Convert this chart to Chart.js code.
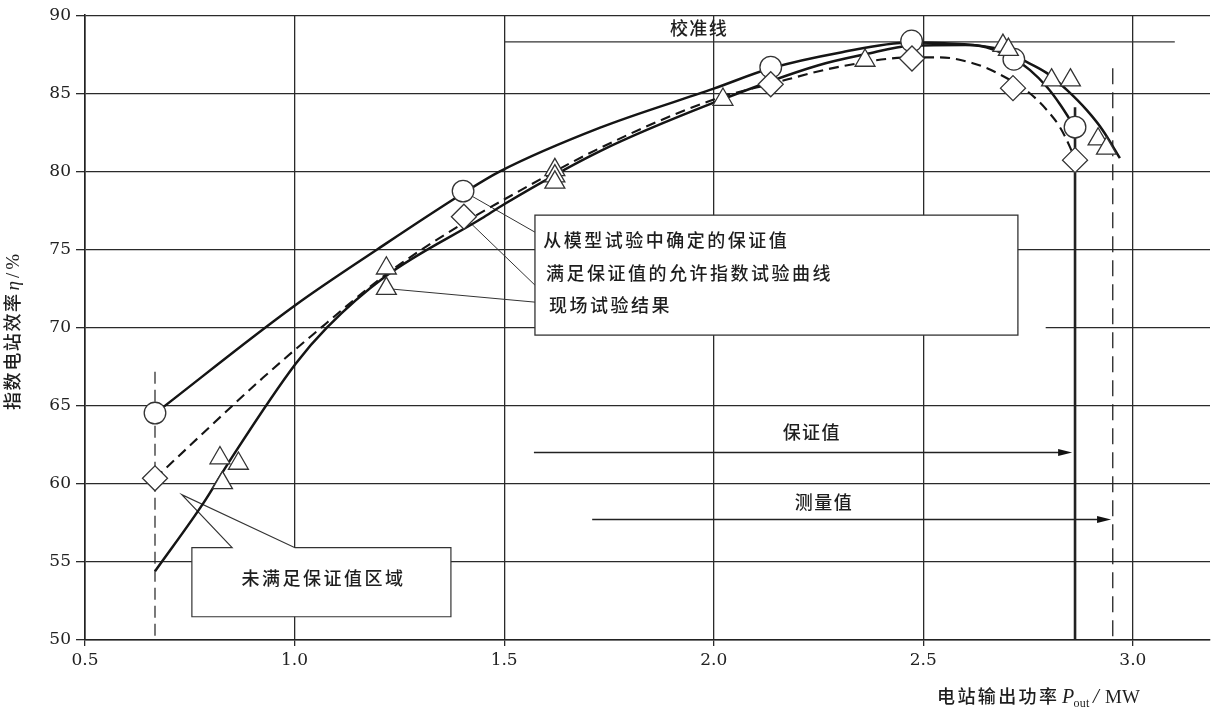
<!DOCTYPE html>
<html>
<head>
<meta charset="utf-8">
<script src="https://cdn.jsdelivr.net/npm/chart.js"></script>
<style>
html,body{margin:0;padding:0;background:#fff;overflow:hidden;}
canvas{display:block;}
</style>
</head>
<body>
<canvas id="c" width="1214" height="712"></canvas>
<script>
// ---- tick labels ----
const xTicks = [0.5, 1.0, 1.5, 2.0, 2.5, 3.0];
const yTicks = [50, 55, 60, 65, 70, 75, 80, 85, 90];

// ---- measured points: model-test guarantee (circles) ----
const circleX = [0.667, 1.402, 2.136, 2.472, 2.716, 2.862];
const circleY = [64.53, 78.74, 86.67, 88.35, 87.18, 82.83];

// ---- allowed index test curve points (diamonds) ----
const diamondX = [0.667, 1.404, 2.136, 2.473, 2.714, 2.862];
const diamondY = [60.35, 77.10, 85.58, 87.23, 85.33, 80.72];

// ---- field test results (triangles) ----
const triangleX = [0.822, 0.866, 0.828, 1.219, 1.219, 1.621, 1.621, 1.621, 2.022, 2.361, 2.690, 2.703, 2.806, 2.851, 2.917, 2.937];
const triangleY = [61.65, 61.30, 60.06, 73.80, 72.50, 80.10, 79.70, 79.30, 84.60, 87.10, 88.05, 87.80, 85.84, 85.84, 82.06, 81.47];

// ---- curve: guarantee from model test (solid) ----
const modelX = [0.667, 1.0, 1.197, 1.402, 1.49, 1.729, 2.0, 2.136, 2.30, 2.47, 2.55, 2.65, 2.716, 2.754, 2.795, 2.826, 2.862];
const modelY = [64.5, 71.4, 75.0, 78.6, 80.0, 82.8, 85.3, 86.6, 87.6, 88.25, 88.2, 87.95, 87.2, 86.5, 85.4, 84.3, 82.8];

// ---- curve: allowed index test curve meeting guarantee (dashed) ----
const allowX = [0.667, 0.925, 1.037, 1.228, 1.416, 1.5, 1.729, 2.0, 2.136, 2.30, 2.473, 2.54, 2.618, 2.676, 2.754, 2.795, 2.826, 2.85, 2.862];
const allowY = [60.35, 66.8, 69.4, 73.6, 76.9, 78.2, 81.5, 84.6, 85.6, 86.7, 87.3, 87.3, 86.93, 86.3, 85.0, 83.92, 82.83, 81.55, 80.72];

// ---- curve: field test result (solid) ----
const fieldX = [0.667, 0.782, 0.846, 1.003, 1.077, 1.218, 1.447, 1.5, 1.729, 2.0, 2.25, 2.361, 2.47, 2.6, 2.69, 2.738, 2.795, 2.843, 2.890, 2.928, 2.969];
const fieldY = [54.4, 58.75, 61.5, 67.7, 70.0, 73.3, 77.0, 77.9, 81.3, 84.4, 86.8, 87.5, 88.05, 88.1, 87.75, 87.12, 86.29, 85.2, 83.92, 82.64, 80.85];

// ---- reference values ----
const guaranteePower = 2.862;   // 保证值
const measuredPower = 2.952;    // 测量值
const minPower = 0.667;
const calibEta = 88.29;         // 校准线

const pts = (xs, ys) => xs.map((v, i) => ({ x: v, y: ys[i] }));

const INK = '#1e1e1e';
const CJK = '"Noto Sans CJK SC"';

function txt(ctx, s, x, y, o) {
  o = o || {};
  ctx.save();
  ctx.font = (o.style || '') + ' ' + (o.weight || 500) + ' ' + (o.size || 18) + 'px ' + (o.family || CJK);
  if ('letterSpacing' in ctx) ctx.letterSpacing = (o.ls === undefined ? 2.5 : o.ls) + 'px';
  ctx.textAlign = o.align || 'left';
  ctx.textBaseline = o.base || 'middle';
  ctx.fillStyle = INK;
  ctx.fillText(s, x, y);
  const w = ctx.measureText(s).width;
  ctx.restore();
  return w;
}

const annotPlugin = {
  id: 'annot',
  beforeDatasetsDraw(chart) {
    const ctx = chart.ctx;
    const xs = chart.scales.x, ys = chart.scales.y;
    const X = v => xs.getPixelForValue(v), Y = v => ys.getPixelForValue(v);
    ctx.save();

    // small gap in the 70 grid line right of the box
    ctx.fillStyle = '#fff';
    ctx.fillRect(X(2.7257), Y(70) - 2, X(2.792) - X(2.7257), 4);

    // calibration line
    ctx.strokeStyle = '#333'; ctx.lineWidth = 1.2;
    ctx.beginPath(); ctx.moveTo(X(1.5), Y(calibEta)); ctx.lineTo(X(3.1), Y(calibEta)); ctx.stroke();

    // vertical reference lines
    ctx.strokeStyle = '#222';
    ctx.lineWidth = 1.2; ctx.setLineDash([12, 6]);
    ctx.beginPath(); ctx.moveTo(X(minPower), Y(67.17)); ctx.lineTo(X(minPower), Y(50)); ctx.stroke();
    ctx.lineWidth = 1.3; ctx.setLineDash([16, 8]);
    ctx.beginPath(); ctx.moveTo(X(measuredPower), Y(86.6)); ctx.lineTo(X(measuredPower), Y(50)); ctx.stroke();
    ctx.setLineDash([]);
    ctx.lineWidth = 2.6;
    ctx.beginPath(); ctx.moveTo(X(guaranteePower), Y(84.1)); ctx.lineTo(X(guaranteePower), Y(50)); ctx.stroke();

    // arrows
    function arrow(x1, x2, yv) {
      const py = Math.round(Y(yv)) + 0.5;
      const xe = X(x2);
      ctx.strokeStyle = '#222'; ctx.lineWidth = 1.3;
      ctx.beginPath(); ctx.moveTo(X(x1), py); ctx.lineTo(xe - 6, py); ctx.stroke();
      ctx.fillStyle = '#111';
      ctx.beginPath(); ctx.moveTo(xe, py); ctx.lineTo(xe - 14, py - 3.5); ctx.lineTo(xe - 14, py + 3.5); ctx.closePath(); ctx.fill();
    }
    arrow(1.571, 2.855, 62.05);
    arrow(1.71, 2.948, 57.74);

    // leader lines
    ctx.strokeStyle = '#333'; ctx.lineWidth = 1;
    [[1.402, 78.74, 1.5735, 76.11], [1.404, 77.10, 1.5735, 72.72], [1.219, 72.50, 1.5735, 71.63]].forEach(l => {
      ctx.beginPath(); ctx.moveTo(X(l[0]), Y(l[1])); ctx.lineTo(X(l[2]), Y(l[3])); ctx.stroke();
    });

    // legend box
    const b1x = X(1.5735), b1y = Y(77.2), b1w = X(2.7257) - X(1.5735), b1h = Y(69.52) - Y(77.2);
    ctx.fillStyle = '#fff'; ctx.fillRect(b1x, b1y, b1w, b1h);
    ctx.strokeStyle = '#333'; ctx.lineWidth = 1.3; ctx.strokeRect(b1x, b1y, b1w, b1h);

    // callout box (unsatisfied region)
    const l = X(0.755), r = X(1.373), t = Y(55.91), bt = Y(51.49);
    ctx.fillStyle = '#fff'; ctx.fillRect(l, t, r - l, bt - t);
    ctx.beginPath();
    ctx.moveTo(l, t); ctx.lineTo(X(0.851), t); ctx.lineTo(X(0.731), Y(59.3)); ctx.lineTo(X(1.001), t);
    ctx.lineTo(r, t); ctx.lineTo(r, bt); ctx.lineTo(l, bt); ctx.closePath();
    ctx.lineWidth = 1.2; ctx.strokeStyle = '#333'; ctx.stroke();

    // texts
    txt(ctx, '从模型试验中确定的保证值', X(1.593), Y(75.6));
    txt(ctx, '满足保证值的允许指数试验曲线', X(1.60), Y(73.5));
    txt(ctx, '现场试验结果', X(1.607), Y(71.44));
    txt(ctx, '未满足保证值区域', X(1.069), Y(53.95), { align: 'center' });
    txt(ctx, '校准线', X(1.965), Y(89.15), { align: 'center', ls: 1.4 });
    txt(ctx, '保证值', X(2.234), Y(63.31), { align: 'center', ls: 1.4 });
    txt(ctx, '测量值', X(2.263), Y(58.85), { align: 'center', ls: 1.4 });
    ctx.restore();
  },
  afterDraw(chart) {
    const ctx = chart.ctx;
    ctx.save();
    // x axis title
    const by = 703;
    txt(ctx, '电站输出功率', 937, by, { base: 'alphabetic', ls: 2.4 });
    txt(ctx, 'P', 1062, by, { style: 'italic', weight: 400, size: 20, family: '"Liberation Serif"', base: 'alphabetic', ls: 0 });
    txt(ctx, 'out', 1073.5, by + 4, { weight: 400, size: 12, family: '"Liberation Serif"', base: 'alphabetic', ls: 0.3 });
    txt(ctx, '/', 1093, by, { style: 'italic', weight: 400, size: 21, family: '"Liberation Serif"', base: 'alphabetic', ls: 0 });
    txt(ctx, 'MW', 1105, by, { weight: 400, size: 19, family: '"Liberation Serif"', base: 'alphabetic', ls: 0 });

    // y axis title (rotated)
    ctx.translate(18.5, 327);
    ctx.rotate(-Math.PI / 2);
    let u = -83;
    u += txt(ctx, '指数电站效率', u, 0, { base: 'alphabetic', ls: 1.6 });
    u += 2;
    u += txt(ctx, 'η', u, 0, { style: 'italic', weight: 400, size: 19, family: '"Liberation Serif"', base: 'alphabetic', ls: 0 });
    u += 3;
    u += txt(ctx, '/', u, 0, { weight: 400, size: 19, family: '"Liberation Serif"', base: 'alphabetic', ls: 0 });
    u += 3;
    txt(ctx, '%', u, 0, { weight: 400, size: 19, family: '"Liberation Serif"', base: 'alphabetic', ls: 0 });
    ctx.restore();
  }
};

const lineBase = { showLine: true, pointRadius: 0, cubicInterpolationMode: 'monotone', borderColor: '#151515', fill: false, order: 10 };
const markBase = { showLine: false, pointBackgroundColor: '#fff', pointBorderColor: '#333', pointBorderWidth: 1.3, order: 1 };

new Chart(document.getElementById('c'), {
  type: 'scatter',
  data: {
    datasets: [
      Object.assign({ label: '从模型试验中确定的保证值', data: pts(modelX, modelY), borderWidth: 2.5 }, lineBase),
      Object.assign({ label: '满足保证值的允许指数试验曲线', data: pts(allowX, allowY), borderWidth: 2.1, borderDash: [10, 6] }, lineBase),
      Object.assign({ label: '现场试验结果', data: pts(fieldX, fieldY), borderWidth: 2.5 }, lineBase),
      Object.assign({ label: '现场试验结果 点', data: pts(triangleX, triangleY), pointStyle: 'triangle', pointRadius: 11.5 }, markBase),
      Object.assign({ label: '允许指数 点', data: pts(diamondX, diamondY), pointStyle: 'rectRot', pointRadius: 12.5 }, markBase),
      Object.assign({ label: '保证值 点', data: pts(circleX, circleY), pointStyle: 'circle', pointRadius: 10.8 }, markBase)
    ]
  },
  options: {
    responsive: false,
    animation: false,
    devicePixelRatio: 1,
    events: [],
    layout: { autoPadding: false, padding: { top: 15, right: 4, left: 0, bottom: 0 } },
    plugins: { legend: { display: false }, tooltip: { enabled: false } },
    scales: {
      x: {
        type: 'linear', min: 0.5, max: 3.184,
        afterBuildTicks: s => { s.ticks = xTicks.map(v => ({ value: v })); },
        afterFit: s => { s.height = 72; },
        ticks: { callback: v => Number(v).toFixed(1), font: { family: '"DejaVu Serif"', size: 17 }, color: '#222', padding: 4, maxRotation: 0, autoSkip: false },
        grid: { color: '#2a2a2a', lineWidth: 1.3, tickLength: 6 },
        border: { color: '#222', width: 1.6 }
      },
      y: {
        type: 'linear', min: 50, max: 90,
        afterBuildTicks: s => { s.ticks = yTicks.map(v => ({ value: v })); },
        afterFit: s => { s.width = 85; },
        ticks: { callback: v => String(v), font: { family: '"DejaVu Serif"', size: 17 }, color: '#222', padding: 5, autoSkip: false },
        grid: { color: '#2a2a2a', lineWidth: 1.3, tickLength: 9 },
        border: { color: '#222', width: 1.6 }
      }
    }
  },
  plugins: [annotPlugin]
});
</script>
</body>
</html>
